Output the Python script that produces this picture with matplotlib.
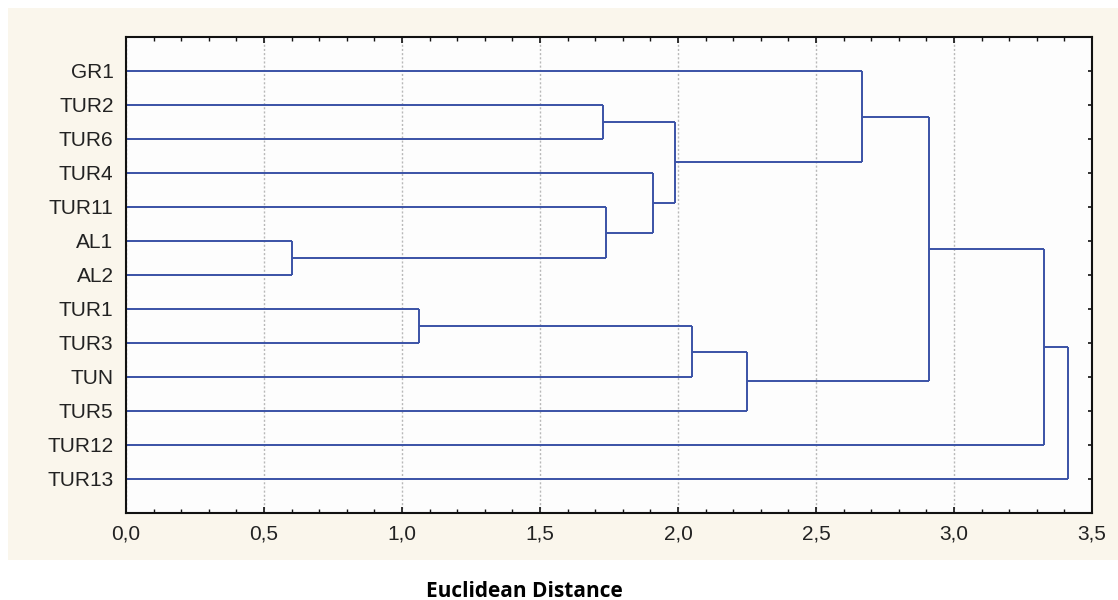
import matplotlib
matplotlib.use("Agg")
import matplotlib.pyplot as plt
from matplotlib.patches import Rectangle
from matplotlib.ticker import MultipleLocator, FuncFormatter

# Leaf order, top to bottom
labels = ["GR1", "TUR2", "TUR6", "TUR4", "TUR11", "AL1", "AL2",
          "TUR1", "TUR3", "TUN", "TUR5", "TUR12", "TUR13"]

# Merges: (left cluster, right cluster, linkage distance)
merge_left = ["AL1", "TUR1", "TUR2", "TUR11", "TUR4", "TUR2", "TUR1", "TUR1", "GR1", "GR1", "GR1", "GR1"]
merge_right = ["AL2", "TUR3", "TUR6", "AL1", "TUR11", "TUR4", "TUN", "TUR5", "TUR2", "TUR1", "TUR12", "TUR13"]
merge_dist = [0.60, 1.063, 1.73, 1.74, 1.91, 1.99, 2.05, 2.25, 2.665, 2.91, 3.326, 3.413]

x_ticks = [0.0, 0.5, 1.0, 1.5, 2.0, 2.5, 3.0, 3.5]
x_label = "Euclidean Distance"

W, H = 1118, 600
fig = plt.figure(figsize=(W / 100, H / 100), dpi=100)
fig.patch.set_facecolor("white")
fig.patches.append(Rectangle((8 / W, (H - 560) / H), (W - 8) / W, 552 / H,
                             transform=fig.transFigure, facecolor="#faf6ec",
                             edgecolor="none", zorder=-10))

ax = fig.add_axes([126 / W, (H - 513) / H, (1092 - 126) / W, (513 - 37) / H])
ax.set_facecolor("#fdfdfd")

line_color = "#3a52a6"
# position of each cluster: key = representative leaf name
ypos = {lab: i + 1 for i, lab in enumerate(labels)}
xpos = {lab: 0.0 for lab in labels}
for a, b, d in zip(merge_left, merge_right, merge_dist):
    ya, yb = ypos[a], ypos[b]
    xa, xb = xpos[a], xpos[b]
    ax.plot([xa, d], [ya, ya], color=line_color, lw=1.4, solid_capstyle="butt")
    ax.plot([xb, d], [yb, yb], color=line_color, lw=1.4, solid_capstyle="butt")
    ax.plot([d, d], [ya, yb], color=line_color, lw=1.4, solid_capstyle="butt")
    ypos[a] = (ya + yb) / 2
    xpos[a] = d

ax.set_xlim(x_ticks[0], x_ticks[-1])
ax.set_ylim(len(labels) + 1, 0)
ax.set_xticks(x_ticks)
ax.xaxis.set_minor_locator(MultipleLocator(0.1))
ax.xaxis.set_major_formatter(FuncFormatter(lambda v, p: f"{v:.1f}".replace(".", ",")))
ax.set_yticks(range(1, len(labels) + 1))
ax.set_yticklabels(labels)

ax.grid(axis="x", which="major", color="#b8b8b8", linestyle=(0, (1.5, 1.5)), lw=1.0)
ax.set_axisbelow(True)

for s in ax.spines.values():
    s.set_linewidth(1.5)
    s.set_color("#111111")

ax.tick_params(axis="both", which="both", direction="in", top=True, right=True,
               colors="#111111", labelcolor="#222222")
ax.tick_params(axis="x", which="major", length=4, width=1.2, labelsize=15, pad=8)
ax.tick_params(axis="x", which="minor", length=3, width=1.0)
ax.tick_params(axis="y", which="major", length=3, width=1.2, labelsize=15, pad=9)
for t in ax.get_xticklabels() + ax.get_yticklabels():
    t.set_fontfamily(["Liberation Sans", "DejaVu Sans"])

fig.text(524 / W, 1 - 597 / H, x_label, ha="center", va="baseline",
         fontsize=15, fontweight="bold", family=["Open Sans", "DejaVu Sans"])

fig.savefig("out.png", dpi=100)
